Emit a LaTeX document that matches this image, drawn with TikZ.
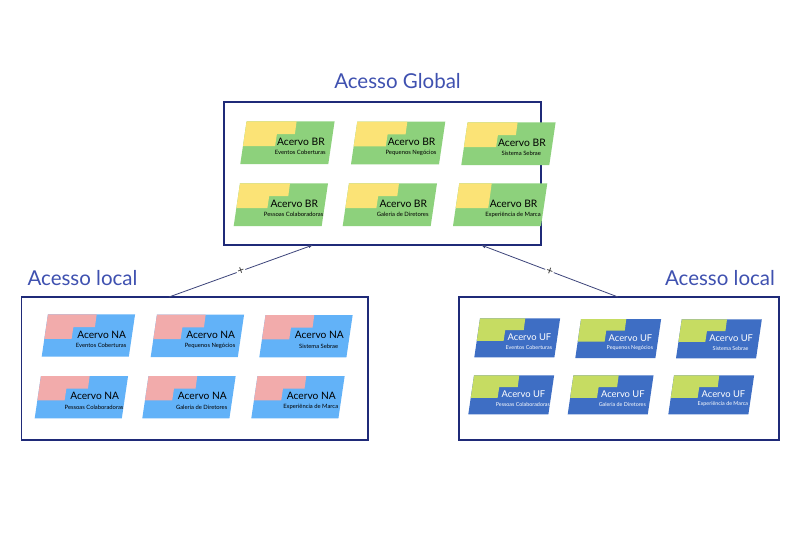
\documentclass[tikz,border=0pt]{standalone}
\usepackage{fontspec}
\setmainfont{Lato}
\usetikzlibrary{arrows.meta}
\definecolor{navy}{HTML}{1F2A78}
\definecolor{heading}{HTML}{3F51B0}
\definecolor{brback}{HTML}{8DD17C}
\definecolor{brfront}{HTML}{FBE376}
\colorlet{brtext}{black}
\definecolor{naback}{HTML}{62B2F8}
\definecolor{nafront}{HTML}{F2ABAB}
\colorlet{natext}{black}
\definecolor{ufback}{HTML}{3E6EC4}
\definecolor{uffront}{HTML}{C6DC62}
\colorlet{uftext}{white}
\tikzset{>={Latex[length=4.5pt,width=3.5pt]}}
\tikzstyle{accessbox} = [draw=navy, line width=1.4pt, inner sep=0pt]
\tikzstyle{heading}   = [text=heading, font=\fontsize{20.5}{21}\selectfont, inner sep=0pt]
\tikzstyle{link}      = [->, draw=navy!70!gray, line width=0.8pt]
\tikzstyle{cross}     = [fill=white, text=black!80, font=\fontsize{12}{12}\selectfont, inner sep=1pt, sloped]
\newcommand{\acervo}[8]{% family, scale, x, y, title, subtitle, yellow top end, step
  \begin{scope}[shift={(#3,#4)}, xscale=#2, yscale=#2]
    \fill[#1back] (0,0) -- (6.3,-42.7) -- (94.3,-42.7) -- (88,0) -- cycle;
    \fill[#1front] (2.7,-18) -- (6.3,-42.7) -- (#7,-42.7) -- (#7-1.7,-30) -- (#8,-30) -- (#8-1.8,-18) -- cycle;
  \end{scope}
  \pgfmathsetmacro{\titlesize}{10.3*#2}
  \pgfmathsetmacro{\subsize}{5.9*#2}
  \node[text=#1text, font=\fontsize{\titlesize}{10}\selectfont, inner sep=0pt] (title#3) at (#3+60.6*#2,#4-22.3*#2) {#5};
  \node[text=#1text, font=\fontsize{\subsize}{5}\selectfont, inner sep=0pt] (sub#3) at (#3+60*#2,#4-11.2*#2) {#6};
}
\begin{document}
\begin{tikzpicture}[x=1pt, y=-1pt]
  \useasboundingbox[fill=white] (0,0) rectangle (800,533);

  % Boxes
  \node[accessbox, minimum width=317pt, minimum height=143pt] (global) at (382.5,173.5) {};
  \node[accessbox, minimum width=346.5pt, minimum height=143pt] (localna) at (194.8,368.5) {};
  \node[accessbox, minimum width=320pt, minimum height=143pt] (localuf) at (619,368.5) {};

  % Headings
  \node[heading] (hglobal) at (397.5,81) {Acesso Global};
  \node[heading] (hna) at (82.5,278) {Acesso local};
  \node[heading] (huf) at (720,278) {Acesso local};

  % Cards
  \foreach \x/\y/\tr/\st/\sub in {240.3/164/56.3/36.6/Eventos Coberturas, 351/164.3/56.3/36.6/Pequenos Negócios,
      461.3/165/56.3/36.6/Sistema Sebrae, 233.7/226/56.3/35.5/Pessoas Colaboradoras,
      342.7/226/56.3/35.5/Galeria de Diretores, 453/226/38.7/37/Experiência de Marca}
    \acervo{br}{1}{\x}{\y}{Acervo BR}{\sub}{\tr}{\st};
  \foreach \x/\y/\sub in {41.7/356.7/Eventos Coberturas, 150.7/357/Pequenos Negócios,
      259.3/357.3/Sistema Sebrae, 34.7/418.3/Pessoas Colaboradoras,
      142.3/418.3/Galeria de Diretores, 251.3/418.3/Experiência de Marca}
    \acervo{na}{0.99}{\x}{\y}{Acervo NA}{\sub}{55.5}{32};
  \foreach \x/\y/\sub in {474.3/357.3/Eventos Coberturas, 575.3/358/Pequenos Negócios,
      676/358.3/Sistema Sebrae, 468.3/414.3/Pessoas Colaboradoras,
      567.7/414.3/Galeria de Diretores, 668.3/414.3/Experiência de Marca}
    \acervo{uf}{0.91}{\x}{\y}{Acervo UF}{\sub}{56}{34};

  % Edges
  \coordinate (naout) at (169,297);
  \coordinate (ufout) at (618,297);
  \coordinate (nain)  at (313,245);
  \coordinate (ufin)  at (481,245);
  \draw[link] (naout) -- node[cross, pos=0.5] (crossna) {+} (nain);
  \draw[link] (ufout) -- node[cross, pos=0.5] (crossuf) {+} (ufin);

\end{tikzpicture}
\end{document}
